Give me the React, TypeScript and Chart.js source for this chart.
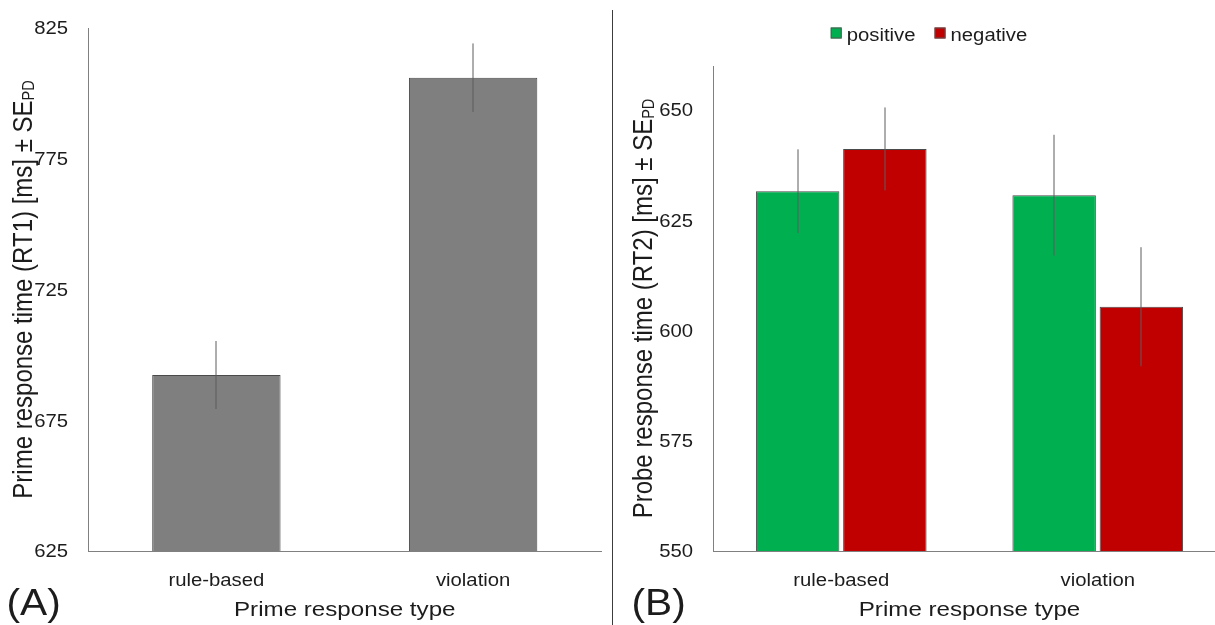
import React, { useEffect, useRef } from "react";
import { Chart, registerables } from "chart.js";

Chart.register(...registerables);

// ---- data ----
const responseTypes = ["rule-based", "violation"];

// (A) prime response times
const primeRT = [692.3, 806.0];
const primeSE = [13.0, 13.1];
const primeTicks = [625, 675, 725, 775, 825];

// (B) probe response times by probe valence
const probeSeries = ["positive", "negative"];
const probePositiveRT = [631.6, 630.7];
const probePositiveSE = [9.5, 13.7];
const probeNegativeRT = [641.2, 605.4];
const probeNegativeSE = [9.4, 13.5];
const probeTicks = [550, 575, 600, 625, 650];

const FONT = '"Liberation Sans", Arial, Helvetica, sans-serif';
const INK = "#1c1c1c";
const AXIS = "#808080";

// horizontally widened text, matching the wide sans look of the figure
function wideText(
  ctx: CanvasRenderingContext2D,
  text: string,
  x: number,
  y: number,
  size: number,
  sx: number,
  align: CanvasTextAlign
) {
  ctx.save();
  ctx.font = `${size}px ${FONT}`;
  ctx.fillStyle = INK;
  ctx.textBaseline = "alphabetic";
  ctx.textAlign = align;
  ctx.translate(x, y);
  ctx.scale(sx, 1);
  ctx.fillText(text, 0, 0);
  ctx.restore();
}

type PanelSpec = {
  yTitle: string;
  yTitleSub: string;
  yTitleBaseX: number;
  xTitle: string;
  panelLabel: string;
  panelLabelX: number;
  ticks: number[];
  errors: number[][];
  legend: boolean;
};

function panelPlugin(spec: PanelSpec) {
  return {
    id: "panelDecor",
    afterDatasetsDraw(chart: any) {
      const ctx: CanvasRenderingContext2D = chart.ctx;
      const y = chart.scales.y;
      // error bars (± SE), no caps
      chart.data.datasets.forEach((ds: any, i: number) => {
        const meta = chart.getDatasetMeta(i);
        meta.data.forEach((bar: any, j: number) => {
          const v = ds.data[j] as number;
          const e = spec.errors[i][j];
          const cx = Math.round(bar.x);
          ctx.save();
          ctx.strokeStyle = "#5c5c5c";
          ctx.lineWidth = 1;
          ctx.beginPath();
          ctx.moveTo(cx, y.getPixelForValue(v + e));
          ctx.lineTo(cx, y.getPixelForValue(v - e));
          ctx.stroke();
          ctx.restore();
        });
      });
    },
    afterDraw(chart: any) {
      const ctx: CanvasRenderingContext2D = chart.ctx;
      const area = chart.chartArea;
      const xs = chart.scales.x;
      const ys = chart.scales.y;

      // y tick labels
      spec.ticks.forEach((t) => {
        wideText(ctx, String(t), area.left - 20, ys.getPixelForValue(t) + 6.3, 17.5, 1.16, "right");
      });

      // x category labels
      (chart.data.labels as string[]).forEach((lab, i) => {
        wideText(ctx, lab, xs.getPixelForValue(i), area.bottom + 35, 17.5, 1.16, "center");
      });

      // x axis title
      wideText(ctx, spec.xTitle, (area.left + area.right) / 2, area.bottom + 65, 21, 1.15, "center");

      // y axis title with subscript
      ctx.save();
      const mainFont = `24px ${FONT}`;
      const subFont = `14.5px ${FONT}`;
      ctx.font = mainFont;
      const w1 = ctx.measureText(spec.yTitle).width;
      ctx.font = subFont;
      const w2 = ctx.measureText(spec.yTitleSub).width;
      const cy = (area.top + area.bottom) / 2;
      ctx.translate(spec.yTitleBaseX, cy);
      ctx.rotate(-Math.PI / 2);
      ctx.scale(1, 1.16);
      ctx.fillStyle = INK;
      ctx.textBaseline = "alphabetic";
      ctx.textAlign = "left";
      const start = -(w1 + w2) / 2;
      ctx.font = mainFont;
      ctx.fillText(spec.yTitle, start, 0);
      ctx.font = subFont;
      ctx.fillText(spec.yTitleSub, start + w1, 2);
      ctx.restore();

      // panel label
      wideText(ctx, spec.panelLabel, spec.panelLabelX, 615, 37, 1.1, "left");

      // legend
      if (spec.legend) {
        const size = 17.5;
        const sx = 1.16;
        const box = 11;
        const gap = 5;
        const between = 19;
        ctx.save();
        ctx.font = `${size}px ${FONT}`;
        const items = chart.data.datasets.map((ds: any) => ({
          label: ds.label as string,
          color: ds.backgroundColor as string,
          w: ctx.measureText(ds.label).width * sx,
        }));
        ctx.restore();
        const total =
          items.reduce((s: number, it: any) => s + box + gap + it.w, 0) + between * (items.length - 1);
        let x = chart.width / 2 - total / 2;
        items.forEach((it: any) => {
          ctx.save();
          ctx.fillStyle = it.color;
          ctx.fillRect(x, 27.5, box, box);
          ctx.strokeStyle = "#555555";
          ctx.lineWidth = 1;
          ctx.strokeRect(x + 0.5, 28, box - 1, box - 1);
          ctx.restore();
          wideText(ctx, it.label, x + box + gap, 41, size, sx, "left");
          x += box + gap + it.w + between;
        });
      }
    },
  };
}

function axisScales(min: number, max: number, yWidth: number) {
  return {
    x: {
      grid: { display: false, drawTicks: false },
      border: { display: true, color: AXIS, width: 1 },
      ticks: { display: false },
      afterFit: (s: any) => {
        s.height = 74;
      },
    },
    y: {
      min,
      max,
      grid: { display: false, drawTicks: false },
      border: { display: true, color: AXIS, width: 1 },
      ticks: { display: false },
      afterFit: (s: any) => {
        s.width = yWidth;
      },
    },
  };
}

export default function App() {
  const aRef = useRef<HTMLCanvasElement | null>(null);
  const bRef = useRef<HTMLCanvasElement | null>(null);

  useEffect(() => {
    if (!aRef.current || !bRef.current) return;

    const chartA = new Chart(aRef.current, {
      type: "bar",
      data: {
        labels: responseTypes,
        datasets: [
          {
            label: "Prime RT",
            data: primeRT,
            backgroundColor: "#7f7f7f",
            borderColor: "#4a4a4a",
            borderWidth: 1,
            barPercentage: 0.5,
            categoryPercentage: 1,
          },
        ],
      },
      options: {
        responsive: false,
        animation: false,
        devicePixelRatio: 1,
        layout: { padding: { top: 28, right: 10.5, left: 0, bottom: 0 } },
        plugins: { legend: { display: false }, tooltip: { enabled: false } },
        scales: axisScales(625, 825, 88) as any,
      },
      plugins: [
        panelPlugin({
          yTitle: "Prime response time (RT1) [ms] ± SE",
          yTitleSub: "PD",
          yTitleBaseX: 32,
          xTitle: "Prime response type",
          panelLabel: "(A)",
          panelLabelX: 6.5,
          ticks: primeTicks,
          errors: [primeSE],
          legend: false,
        }) as any,
      ],
    });

    const chartB = new Chart(bRef.current, {
      type: "bar",
      data: {
        labels: responseTypes,
        datasets: [
          {
            label: probeSeries[0],
            data: probePositiveRT,
            backgroundColor: "#00b050",
            borderColor: "#4a4a4a",
            borderWidth: 1,
            barPercentage: 0.957,
            categoryPercentage: 0.68,
          },
          {
            label: probeSeries[1],
            data: probeNegativeRT,
            backgroundColor: "#c00000",
            borderColor: "#4a4a4a",
            borderWidth: 1,
            barPercentage: 0.957,
            categoryPercentage: 0.68,
          },
        ],
      },
      options: {
        responsive: false,
        animation: false,
        devicePixelRatio: 1,
        layout: { padding: { top: 66, right: 18, left: 0, bottom: 0 } },
        plugins: { legend: { display: false }, tooltip: { enabled: false } },
        scales: axisScales(550, 660, 99) as any,
      },
      plugins: [
        panelPlugin({
          yTitle: "Probe response time (RT2) [ms] ± SE",
          yTitleSub: "PD",
          yTitleBaseX: 38,
          xTitle: "Prime response type",
          panelLabel: "(B)",
          panelLabelX: 17.5,
          ticks: probeTicks,
          errors: [probePositiveSE, probeNegativeSE],
          legend: true,
        }) as any,
      ],
    });

    return () => {
      chartA.destroy();
      chartB.destroy();
    };
  }, []);

  return (
    <div
      style={{
        position: "absolute",
        left: 0,
        top: 0,
        width: 1215,
        height: 625,
        overflow: "hidden",
        background: "#ffffff",
      }}
    >
      <canvas ref={aRef} width={612} height={625} style={{ position: "absolute", left: 0, top: 0 }} />
      <div
        style={{
          position: "absolute",
          left: 612,
          top: 10,
          width: 1,
          height: 615,
          background: "#3c3c3c",
        }}
      />
      <canvas ref={bRef} width={630} height={625} style={{ position: "absolute", left: 614, top: 0 }} />
    </div>
  );
}
